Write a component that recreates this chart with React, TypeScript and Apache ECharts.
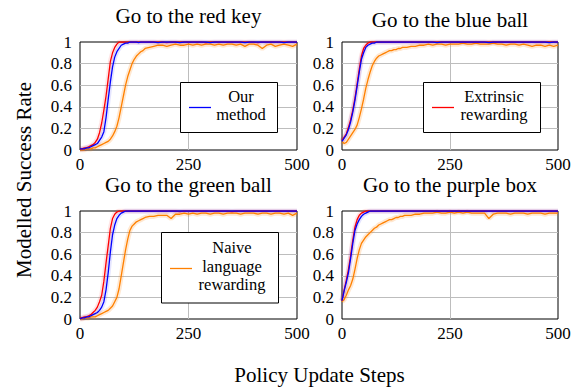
import React, { useEffect, useRef } from "react";
import * as echarts from "echarts";

const steps = [0,5,10,15,20,25,30,35,40,45,50,55,60,65,70,75,80,85,90,95,100,105,110,115,120,125,130,135,140,145,150,160,170,180,190,200,210,220,230,240,250,260,270,280,290,300,310,320,330,340,350,360,370,380,390,400,410,420,430,440,450,460,470,480,490,500];

const panelTitles = ["Go to the red key", "Go to the blue ball", "Go to the green ball", "Go to the purple box"];
const seriesNames = ["Our method", "Extrinsic rewarding", "Naive language rewarding"];
const xTicks = [0, 250, 500];
const yTicks = [0, 0.2, 0.4, 0.6, 0.8, 1];

// Go to the red key
const redKeyOurs = [0.01,0.01,0.01,0.02,0.02,0.03,0.04,0.05,0.06,0.09, 0.12,0.17,0.30,0.47,0.63,0.77,0.86,0.91,0.94,0.97, 0.98,0.99,0.99,1,1,1,1,0.995,1,1, 1,
  1,1,0.995,1,1,1,1,0.995,1,1, 1,1,1,1,0.995,1,1,1,1,1, 1,1,0.995,1,1,1,1,1,1,1, 1,0.995,1,1,1];
const redKeyExtrinsic = [0.01,0.01,0.02,0.02,0.03,0.04,0.05,0.07,0.10,0.16, 0.25,0.37,0.50,0.66,0.82,0.90,0.95,0.98,1,1, 1,1,1,1,1,1,1,1,1,1, 1,
  1,1,1,1,0.995,1,1,1,1,1, 1,1,1,0.995,1,1,1,1,1,1, 1,1,1,1,1,0.995,1,1,1,1, 1,1,1,1,1];
const redKeyNaive = [0,0,0,0.01,0.01,0.01,0.02,0.02,0.03,0.04, 0.05,0.06,0.07,0.08,0.10,0.13,0.17,0.22,0.30,0.40, 0.50,0.60,0.68,0.74,0.80,0.84,0.87,0.89,0.91,0.92, 0.94,
  0.95,0.96,0.97,0.97,0.96,0.97,0.98,0.97,0.97,0.98, 0.97,0.98,0.97,0.98,0.98,0.97,0.98,0.97,0.98,0.98, 0.97,0.98,0.96,0.98,0.98,0.97,0.94,0.97,0.98,0.96, 0.97,0.98,0.97,0.96,0.98];

// Go to the blue ball
const blueBallOurs = [0.08,0.11,0.14,0.19,0.26,0.35,0.46,0.59,0.72,0.84, 0.90,0.95,0.97,0.98,0.99,0.99,1,1,1,1, 1,1,1,1,1,1,1,1,1,1, 1,
  1,1,1,1,1,1,0.995,1,1,1, 1,1,1,1,1,1,1,1,0.995,1, 1,1,1,1,1,1,1,1,1,1, 1,1,0.995,1,1];
const blueBallExtrinsic = [0.09,0.12,0.15,0.21,0.28,0.37,0.48,0.61,0.75,0.87, 0.94,0.97,0.99,1,1,1,1,1,1,1, 1,1,1,1,1,1,1,1,1,1, 1,
  1,1,1,1,1,1,1,1,1,1, 1,1,1,1,1,1,1,1,1,1, 1,1,1,1,1,1,1,1,1,1, 1,1,1,1,1];
const blueBallNaive = [0.08,0.06,0.07,0.10,0.13,0.16,0.19,0.23,0.30,0.38, 0.47,0.57,0.65,0.72,0.78,0.82,0.85,0.87,0.88,0.89, 0.90,0.91,0.92,0.92,0.93,0.93,0.94,0.94,0.95,0.95, 0.95,
  0.96,0.96,0.97,0.97,0.98,0.97,0.98,0.98,0.97,0.98, 0.98,0.98,0.99,0.98,0.98,0.99,0.98,0.98,0.98,0.99, 0.98,0.98,0.97,0.98,0.98,0.97,0.98,0.97,0.96,0.97, 0.97,0.96,0.97,0.96,0.97];

// Go to the green ball
const greenBallOurs = [0,0.01,0.01,0.02,0.02,0.03,0.04,0.05,0.06,0.08, 0.11,0.16,0.27,0.43,0.62,0.78,0.87,0.93,0.96,0.98, 0.99,1,1,1,1,1,1,1,1,1, 1,
  1,1,1,1,1,1,1,1,1,1, 1,1,1,1,1,1,1,1,1,1, 1,1,1,1,1,1,1,1,1,1, 1,1,1,1,1];
const greenBallExtrinsic = [0.01,0.01,0.02,0.02,0.03,0.04,0.06,0.08,0.11,0.16, 0.22,0.35,0.52,0.68,0.84,0.93,0.97,0.99,1,1, 1,1,1,1,1,1,1,1,1,1, 1,
  1,1,1,1,1,1,1,0.995,1,1, 1,1,1,1,1,1,1,1,1,0.995, 1,1,1,1,1,1,1,1,1,1, 1,1,1,1,1];
const greenBallNaive = [0,0,0.01,0.01,0.01,0.02,0.02,0.02,0.03,0.04, 0.05,0.06,0.07,0.08,0.10,0.12,0.16,0.20,0.28,0.40, 0.52,0.64,0.74,0.82,0.86,0.88,0.90,0.91,0.92,0.93, 0.94,
  0.95,0.95,0.96,0.96,0.96,0.93,0.97,0.97,0.98,0.97, 0.98,0.97,0.98,0.98,0.97,0.98,0.98,0.97,0.98,0.98, 0.98,0.97,0.98,0.98,0.98,0.97,0.98,0.98,0.97,0.98, 0.98,0.97,0.98,0.96,0.98];

// Go to the purple box
const purpleBoxOurs = [0.17,0.26,0.34,0.43,0.56,0.70,0.82,0.88,0.92,0.95, 0.97,0.98,0.99,1,1,1,1,1,1,1, 1,1,1,1,1,1,1,1,1,1, 1,
  1,1,1,1,1,1,1,1,1,1, 1,1,1,1,1,1,1,1,1,1, 1,1,1,1,1,1,1,1,1,1, 1,1,1,1,1];
const purpleBoxExtrinsic = [0.17,0.27,0.36,0.46,0.59,0.73,0.85,0.92,0.96,0.98, 0.99,1,1,1,1,1,1,1,1,1, 1,1,1,1,1,1,1,1,1,1, 1,
  1,1,1,1,1,1,1,1,1,1, 1,1,1,1,1,1,1,1,1,1, 1,1,1,1,1,1,1,1,1,1, 1,1,1,1,1];
const purpleBoxNaive = [0.16,0.18,0.22,0.27,0.31,0.37,0.46,0.56,0.64,0.70, 0.73,0.76,0.78,0.80,0.82,0.84,0.85,0.87,0.88,0.89, 0.90,0.91,0.92,0.92,0.93,0.94,0.94,0.95,0.95,0.96, 0.96,
  0.96,0.97,0.97,0.98,0.98,0.98,0.99,0.98,0.98,0.99, 0.98,0.99,0.98,0.99,0.98,0.98,0.98,0.98,0.93,0.97, 0.98,0.98,0.98,0.97,0.98,0.98,0.98,0.97,0.98,0.98, 0.98,0.97,0.98,0.98,0.98];

const panels = [
  [redKeyOurs, redKeyExtrinsic, redKeyNaive],
  [blueBallOurs, blueBallExtrinsic, blueBallNaive],
  [greenBallOurs, greenBallExtrinsic, greenBallNaive],
  [purpleBoxOurs, purpleBoxExtrinsic, purpleBoxNaive],
];

const COLORS = ["#0000ff", "#ff0000", "#ff8000"];
const BAND_OPACITY = [0.1, 0.1, 0.18];
const FONT = "'Liberation Serif', 'DejaVu Serif', serif";

const GRIDS = [
  { left: 80, top: 42, width: 217, height: 108 },
  { left: 342, top: 42, width: 216, height: 108 },
  { left: 80, top: 211, width: 217, height: 108 },
  { left: 342, top: 211, width: 216, height: 108 },
];
const TITLE_POS = [
  { x: 188.5, y: 15.5 },
  { x: 450, y: 19.5 },
  { x: 188.5, y: 184.5 },
  { x: 450, y: 184.5 },
];

function txt(text: string, x: number, y: number, size: number, extra: any = {}) {
  return {
    type: "text",
    x,
    y,
    z: 100,
    ...extra,
    style: {
      text,
      font: `${size}px ${FONT}`,
      fill: "#000",
      textAlign: "center",
      align: "center",
      textVerticalAlign: "middle",
      verticalAlign: "middle",
    },
  };
}

function legendBox(x: number, y: number, w: number, h: number, color: string, lx: number, ly: number, lines: string[], tx: number, ty: number[]) {
  const els: any[] = [
    { type: "rect", z: 100, shape: { x, y, width: w, height: h }, style: { fill: "#fff", stroke: "#000", lineWidth: 1 } },
    { type: "line", z: 101, shape: { x1: lx, y1: ly, x2: lx + 22, y2: ly }, style: { stroke: color, lineWidth: 1.3 } },
  ];
  lines.forEach((t, i) => els.push(txt(t, tx, ty[i], 16.5, { z: 101 })));
  return els;
}

export default function App() {
  const ref = useRef<HTMLDivElement>(null);
  useEffect(() => {
    if (!ref.current) return;
    const chart = echarts.init(ref.current, null, { renderer: "svg" });
    const axisLabel = { color: "#000", fontFamily: FONT, fontSize: 17 };
    const series: any[] = [];
    const order = [2, 1, 0];
    panels.forEach((arrs, p) => {
      order.forEach((k) => {
        const data = steps.map((s, j) => [s, arrs[k][j]]);
        series.push({
          type: "line",
          name: seriesNames[k] + " band",
          xAxisIndex: p,
          yAxisIndex: p,
          data,
          showSymbol: false,
          silent: true,
          lineStyle: { color: COLORS[k], width: 5, opacity: BAND_OPACITY[k] },
          z: 2,
        });
      });
      order.forEach((k) => {
        const data = steps.map((s, j) => [s, arrs[k][j]]);
        series.push({
          type: "line",
          name: seriesNames[k],
          xAxisIndex: p,
          yAxisIndex: p,
          data,
          showSymbol: false,
          lineStyle: { color: COLORS[k], width: 1.3 },
          z: 3,
        });
      });
    });

    const graphic: any[] = [];
    panelTitles.forEach((t, i) => graphic.push(txt(t, TITLE_POS[i].x, TITLE_POS[i].y, 21)));
    graphic.push(txt("Modelled Success Rate", 24, 180, 21, { rotation: Math.PI / 2 }));
    graphic.push(txt("Policy Update Steps", 319.5, 374.5, 21));
    graphic.push(...legendBox(180.5, 82.5, 97, 50, COLORS[0], 189, 107.5, ["Our", "method"], 241, [96.1, 114.4]));
    graphic.push(...legendBox(423.5, 82.5, 117, 50, COLORS[1], 432, 107.5, ["Extrinsic", "rewarding"], 494, [96.1, 114.4]));
    graphic.push(...legendBox(161.5, 232.5, 117, 70.5, COLORS[2], 170, 268.5, ["Naive", "language", "rewarding"], 232, [247.7, 266.1, 284.4]));

    chart.setOption({
      animation: false,
      backgroundColor: "#fff",
      grid: GRIDS.map((g) => ({ ...g, show: true, borderColor: "#000", borderWidth: 1, backgroundColor: "transparent", containLabel: false })),
      xAxis: GRIDS.map((_, i) => ({
        type: "value",
        gridIndex: i,
        min: xTicks[0],
        max: xTicks[xTicks.length - 1],
        interval: xTicks[1] - xTicks[0],
        axisLine: { show: false },
        axisTick: { show: false },
        splitLine: { show: true, showMinLine: false, showMaxLine: false, lineStyle: { color: "#bdbdbd", width: 1 } },
        axisLabel: { ...axisLabel, margin: 6 },
      })),
      yAxis: GRIDS.map((_, i) => ({
        type: "value",
        gridIndex: i,
        min: yTicks[0],
        max: yTicks[yTicks.length - 1],
        interval: yTicks[1] - yTicks[0],
        axisLine: { show: false },
        axisTick: { show: false },
        splitLine: { show: true, showMinLine: false, showMaxLine: false, lineStyle: { color: "#bdbdbd", width: 1 } },
        axisLabel: { ...axisLabel, margin: 8 },
      })),
      series,
      graphic,
    });
    return () => chart.dispose();
  }, []);
  return <div ref={ref} style={{ position: "absolute", left: 0, top: 0, width: 579, height: 387 }} />;
}
